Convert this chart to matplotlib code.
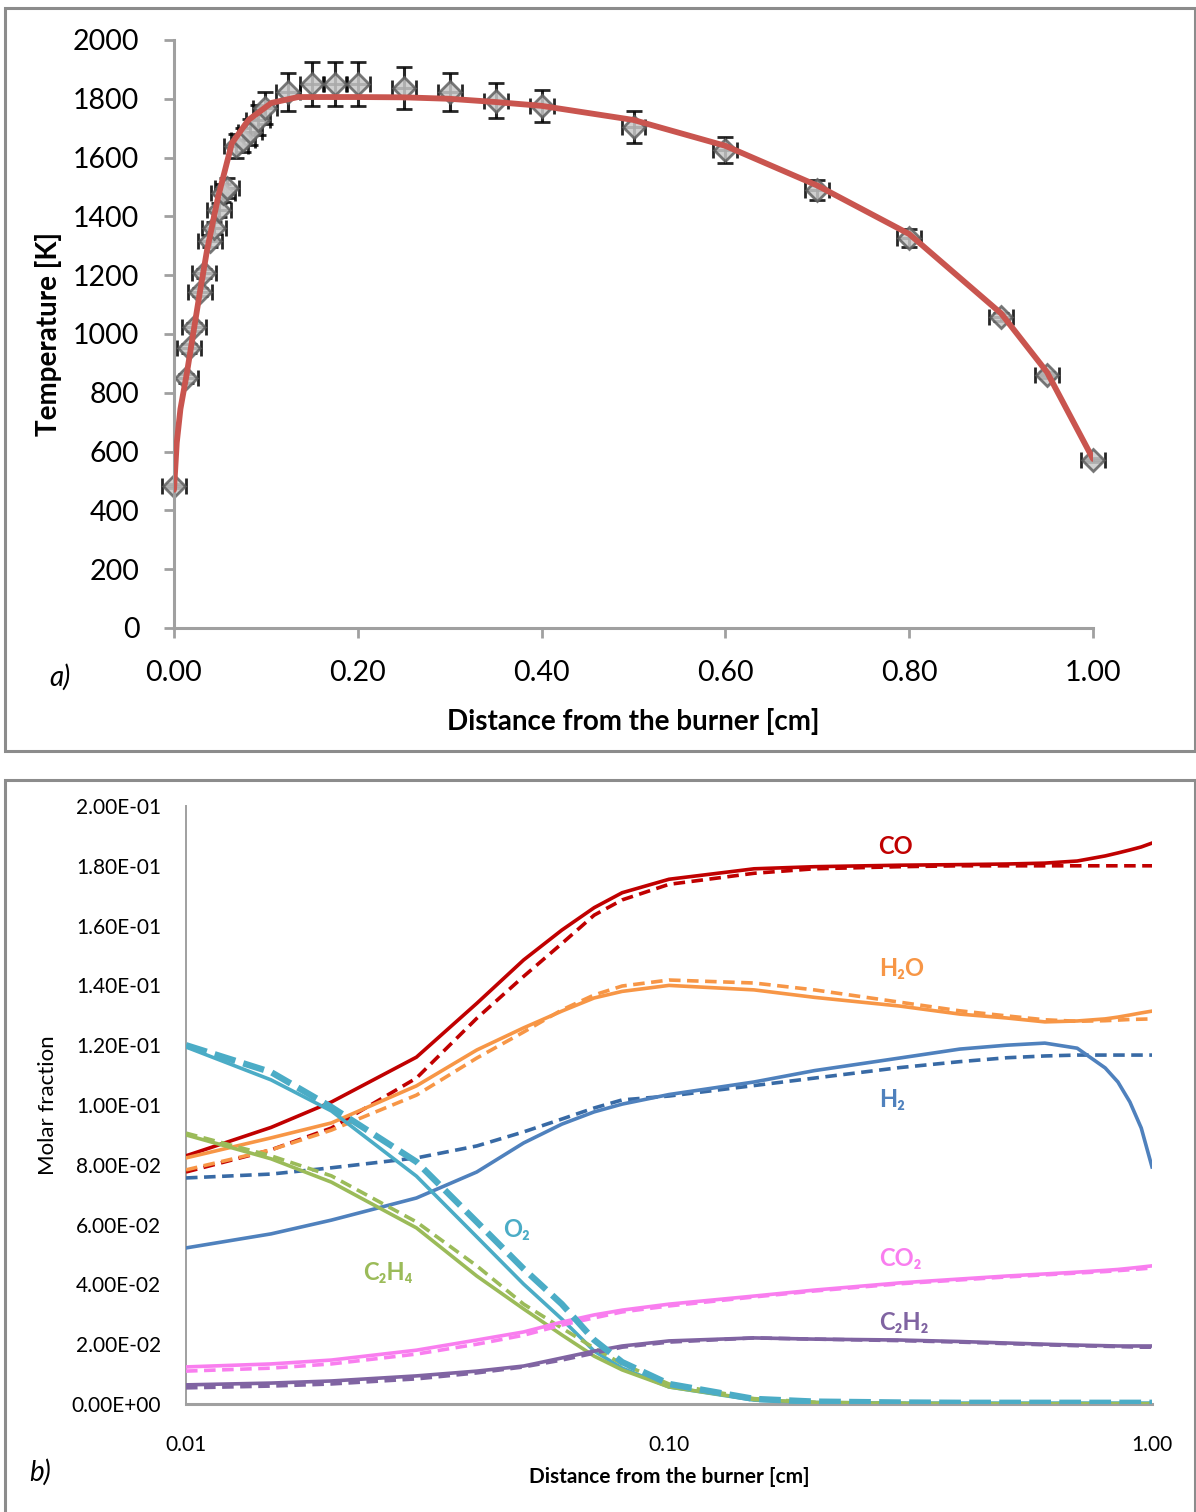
import matplotlib
matplotlib.use("Agg")
import matplotlib.pyplot as plt
from matplotlib.patches import Rectangle
from matplotlib.ticker import FixedLocator, FuncFormatter, NullLocator

plt.rcParams["font.family"] = ["Lato", "DejaVu Sans"]

# --- a) temperature profile ---------------------------------------------
# measured points (distance in cm, temperature in K) with their error bars
exp_x = [0.0, 0.013, 0.016, 0.022, 0.028, 0.033, 0.039, 0.044, 0.049, 0.053,
         0.058, 0.067, 0.075, 0.083, 0.091, 0.099, 0.124, 0.15, 0.175, 0.2,
         0.25, 0.3, 0.35, 0.4, 0.5, 0.6, 0.7, 0.8, 0.9, 0.95, 1.0]
exp_T = [483, 850, 952, 1024, 1143, 1207, 1316, 1360, 1422, 1480,
         1497, 1639, 1660, 1687, 1728, 1769, 1823, 1850, 1850, 1850,
         1837, 1823, 1793, 1776, 1704, 1626, 1490, 1327, 1058, 860, 571]
exp_T_err = [8, 15, 15, 15, 15, 15, 20, 20, 25, 30,
             35, 40, 40, 45, 50, 55, 65, 75, 75, 75,
             70, 65, 60, 55, 55, 45, 35, 30, 15, 10, 6]
exp_x_err = 0.013

# model temperature profile
model_x = [0.0, 0.003, 0.007, 0.014, 0.021, 0.028, 0.036, 0.048, 0.063, 0.081,
           0.106, 0.135, 0.2, 0.25, 0.3, 0.35, 0.4, 0.5, 0.6, 0.7, 0.8, 0.9,
           0.95, 1.0]
model_T = [470, 630, 745, 867, 1003, 1139, 1286, 1466, 1649, 1728,
           1786, 1806, 1806, 1805, 1800, 1789, 1776, 1728, 1640, 1505, 1340,
           1070, 870, 575]

# --- b) species molar fractions (solid / dashed curves) -----------------
dist = [0.01, 0.015, 0.02, 0.03, 0.04, 0.05, 0.06, 0.07, 0.08, 0.1, 0.15,
        0.2, 0.3, 0.4, 0.5, 0.6, 0.7, 0.8, 0.85, 0.9, 0.95, 1.0]

co_solid = [0.083, 0.0925, 0.101, 0.116, 0.134, 0.1485, 0.1585, 0.166, 0.171,
            0.1755, 0.179, 0.1797, 0.1802, 0.1804, 0.1806, 0.1809, 0.1816,
            0.1833, 0.1843, 0.1853, 0.1863, 0.1876]
co_dash = [0.0776, 0.085, 0.0923, 0.109, 0.129, 0.143, 0.154, 0.1635, 0.1686,
           0.1738, 0.1775, 0.179, 0.1797, 0.18, 0.18, 0.18, 0.18, 0.18, 0.18,
           0.18, 0.18, 0.18]

h2o_solid = [0.0823, 0.089, 0.094, 0.1064, 0.1184, 0.1258, 0.1314, 0.1358,
             0.138, 0.140, 0.1385, 0.136, 0.1331, 0.1304, 0.1291, 0.1278,
             0.1281, 0.1288, 0.1294, 0.1301, 0.1308, 0.1314]
h2o_dash = [0.0783, 0.085, 0.0916, 0.1033, 0.1157, 0.1244, 0.1318, 0.1368,
            0.1398, 0.1418, 0.1408, 0.1385, 0.1344, 0.1315, 0.1298, 0.1285,
            0.128, 0.1282, 0.1284, 0.1286, 0.1287, 0.1288]

h2_solid = [0.0522, 0.0569, 0.0615, 0.0689, 0.0776, 0.0873, 0.0936, 0.0977,
            0.1003, 0.1035, 0.1077, 0.1115, 0.1157, 0.1187, 0.120, 0.1207,
            0.119, 0.1124, 0.1077, 0.101, 0.0923, 0.0793]
h2_dash = [0.0756, 0.0769, 0.079, 0.0823, 0.0863, 0.091, 0.0953, 0.099,
           0.1017, 0.103, 0.1065, 0.109, 0.1125, 0.1145, 0.1158, 0.1164,
           0.1167, 0.1167, 0.1167, 0.1167, 0.1167, 0.1167]

o2_solid = [0.1194, 0.1084, 0.098, 0.0762, 0.0559, 0.0401, 0.0284, 0.0177,
            0.012, 0.0057, 0.0013, 0.0005, 0.0003, 0.0003, 0.0003, 0.0003,
            0.0003, 0.0003, 0.0003, 0.0003, 0.0003, 0.0003]
o2_dash = [0.12, 0.111, 0.0993, 0.081, 0.0609, 0.0452, 0.0334, 0.0214,
           0.014, 0.0067, 0.0017, 0.0008, 0.0005, 0.0004, 0.0004, 0.0004,
           0.0004, 0.0004, 0.0004, 0.0004, 0.0004, 0.0004]

c2h4_solid = [0.09, 0.082, 0.0742, 0.0589, 0.0428, 0.0318, 0.0231, 0.016,
              0.0114, 0.0057, 0.0015, 0.0005, 0.0002, 0.0001, 0.0001, 0.0001,
              0.0001, 0.0001, 0.0001, 0.0001, 0.0001, 0.0001]
c2h4_dash = [0.0906, 0.083, 0.0763, 0.0609, 0.0462, 0.0334, 0.0254, 0.0187,
             0.0134, 0.0067, 0.0018, 0.0006, 0.0002, 0.0001, 0.0001, 0.0001,
             0.0001, 0.0001, 0.0001, 0.0001, 0.0001, 0.0001]

co2_solid = [0.0124, 0.0134, 0.0147, 0.018, 0.0214, 0.0241, 0.0274, 0.0298,
             0.0314, 0.0334, 0.0361, 0.0381, 0.0405, 0.0418, 0.0428, 0.0435,
             0.0441, 0.0447, 0.045, 0.0454, 0.0458, 0.0462]
co2_dash = [0.011, 0.012, 0.0134, 0.0167, 0.02, 0.023, 0.0264, 0.0288,
            0.0308, 0.0328, 0.0358, 0.0378, 0.0402, 0.0415, 0.0425, 0.0432,
            0.0438, 0.0443, 0.0446, 0.0449, 0.0452, 0.0455]

c2h2_solid = [0.0064, 0.007, 0.0077, 0.0094, 0.011, 0.0127, 0.0154, 0.0177,
              0.0194, 0.0211, 0.0221, 0.0217, 0.0214, 0.0209, 0.0204, 0.02,
              0.0197, 0.0195, 0.0194, 0.0194, 0.0194, 0.0194]
c2h2_dash = [0.0054, 0.006, 0.0067, 0.0084, 0.0104, 0.0124, 0.0147, 0.017,
             0.019, 0.0207, 0.0221, 0.0217, 0.0212, 0.0207, 0.0202, 0.0198,
             0.0195, 0.0193, 0.0192, 0.0191, 0.019, 0.019]

species = ["CO", "H₂O", "H₂", "O₂", "C₂H₄", "CO₂", "C₂H₂"]
species_colors = ["#C00000", "#F79646", "#4F81BD", "#4BACC6", "#9BBB59",
                  "#F97EEF", "#8064A2"]
dash_colors = ["#C00000", "#F79646", "#386AA5", "#4BACC6", "#9BBB59",
               "#F97EEF", "#8064A2"]
solid_series = [co_solid, h2o_solid, h2_solid, o2_solid, c2h4_solid,
                co2_solid, c2h2_solid]
dash_series = [co_dash, h2o_dash, h2_dash, o2_dash, c2h4_dash,
               co2_dash, c2h2_dash]
label_pos = [(0.294, 0.1863), (0.303, 0.1458), (0.2895, 0.102),
             (0.0484, 0.0582), (0.0262, 0.0441), (0.301, 0.0485),
             (0.306, 0.0271)]

AXIS_GRAY = "#A0A0A0"
W, H = 1196, 1512

fig = plt.figure(figsize=(W / 100, H / 100), dpi=100)
fig.patch.set_facecolor("white")

# panel frames
for (x0, y0, x1, y1) in [(5, 8, 1195, 751), (5, 780, 1195, 1530)]:
    fig.add_artist(Rectangle((x0 / W, 1 - y1 / H), (x1 - x0) / W, (y1 - y0) / H,
                             transform=fig.transFigure, fill=False,
                             edgecolor="#8C8C8C", linewidth=2.2))

# ---------------- panel a ----------------
ax = fig.add_axes([174 / W, 1 - 628 / H, (1093 - 174) / W, (628 - 40) / H])
ax.plot(model_x, model_T, color="#C9554F", linewidth=4.2, zorder=3,
        solid_capstyle="round")
ax.errorbar(exp_x, exp_T, xerr=exp_x_err, yerr=exp_T_err, fmt="D",
            markersize=11, markerfacecolor="#C8C8C8", markeredgecolor="#606060",
            markeredgewidth=2.0, ecolor="black", elinewidth=2.2, capsize=6,
            capthick=2.2, alpha=0.85, zorder=2, clip_on=False)

ax.set_xlim(0, 1)
ax.set_ylim(0, 2000)
ax.set_xticks([0.0, 0.2, 0.4, 0.6, 0.8, 1.0])
ax.set_xticklabels(["0.00", "0.20", "0.40", "0.60", "0.80", "1.00"])
ax.set_yticks(range(0, 2001, 200))
ax.tick_params(axis="both", labelsize=20.5, colors=AXIS_GRAY,
               labelcolor="black", width=2, length=7)
ax.tick_params(axis="x", pad=16)
ax.tick_params(axis="y", pad=18)
for side in ["top", "right"]:
    ax.spines[side].set_visible(False)
for side in ["left", "bottom"]:
    ax.spines[side].set_color(AXIS_GRAY)
    ax.spines[side].set_linewidth(2.2)
ax.set_xlabel("Distance from the burner [cm]", fontsize=20, fontweight="bold",
              labelpad=16)
ax.set_ylabel("Temperature [K]", fontsize=20, fontweight="bold", labelpad=8)
fig.text(60 / W, 1 - 677 / H, "a)", fontsize=20, style="italic",
         ha="center", va="center")

# ---------------- panel b ----------------
bx = fig.add_axes([186 / W, 1 - 1404 / H, (1152 - 186) / W, (1404 - 806) / H])
for name, sol, dsh, col, dcol, pos in zip(species, solid_series, dash_series,
                                          species_colors, dash_colors, label_pos):
    if name == "O₂":
        bx.plot(dist, dsh, color=dcol, linewidth=4.6, dashes=(3.4, 1.3),
                zorder=4)
    else:
        bx.plot(dist, dsh, color=dcol, linewidth=2.6, dashes=(3.2, 1.8),
                zorder=3)
    bx.plot(dist, sol, color=col, linewidth=2.6, zorder=3)
    bx.text(pos[0], pos[1], name, color=col, fontsize=17, fontweight="bold",
            ha="center", va="center", family=["Lato", "DejaVu Sans"])

bx.set_xscale("log")
bx.set_xlim(0.01, 1.0)
bx.set_ylim(0, 0.2)
bx.xaxis.set_major_locator(FixedLocator([0.01, 0.1, 1.0]))
bx.xaxis.set_minor_locator(NullLocator())
bx.xaxis.set_major_formatter(FuncFormatter(lambda v, p: f"{v:.2f}"))
bx.set_yticks([i * 0.02 for i in range(11)])
bx.yaxis.set_major_formatter(FuncFormatter(lambda v, p: f"{v:.2E}"))
bx.tick_params(axis="both", labelsize=15, length=0)
bx.tick_params(axis="x", pad=22)
bx.tick_params(axis="y", pad=18)
for side in ["top", "right"]:
    bx.spines[side].set_visible(False)
bx.spines["left"].set_color(AXIS_GRAY)
bx.spines["left"].set_linewidth(1.4)
bx.spines["bottom"].set_color(AXIS_GRAY)
bx.spines["bottom"].set_linewidth(2.2)
bx.set_xlabel("Distance from the burner [cm]", fontsize=15, fontweight="bold",
              labelpad=9)
bx.set_ylabel("Molar fraction", fontsize=16, labelpad=10)
fig.text(40 / W, 1 - 1472 / H, "b)", fontsize=20, style="italic",
         ha="center", va="center")

fig.savefig("out.png", dpi=100)
